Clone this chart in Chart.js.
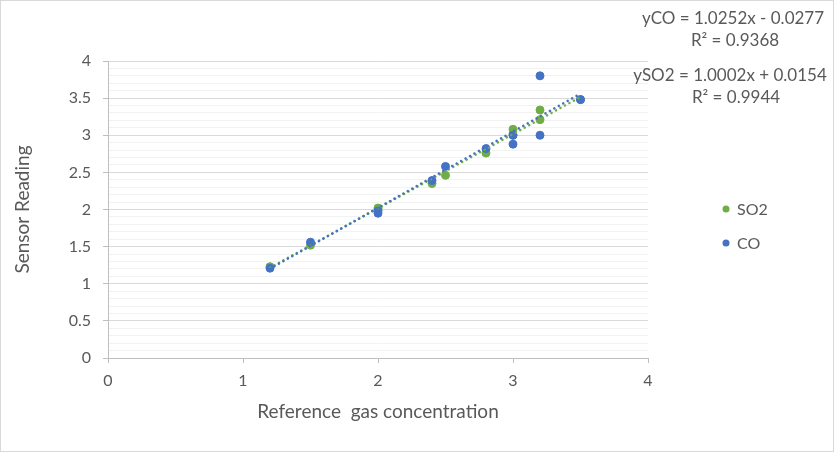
<!DOCTYPE html>
<html>
<head>
<meta charset="utf-8">
<script src="https://cdn.jsdelivr.net/npm/chart.js@4/dist/chart.umd.min.js"></script>
<style>
  html, body { margin: 0; padding: 0; background: #fff; }
  #wrap { width: 834px; height: 452px; position: relative; }
</style>
</head>
<body>
<div id="wrap"><canvas id="chart" width="834" height="452"></canvas></div>
<script>
/* ================= DATA ================= */

const refConc = [1.2, 1.5, 2, 2, 2.4, 2.5, 2.8, 3, 3, 3.2, 3.2, 3.5];
const so2Reading = [1.23, 1.52, 2.0, 2.02, 2.35, 2.46, 2.76, 3.08, 3.0, 3.34, 3.21, 3.48];
const coReading = [1.21, 1.56, 1.95, 1.98, 2.39, 2.58, 2.82, 3.0, 2.88, 3.8, 3.0, 3.48];

// trendline coefficients shown on the chart [slope, intercept]
const coFit = [1.0252, -0.0277];
const so2Fit = [1.0002, 0.0154];
const fitRange = [1.2, 3.5];

const equationLabels = [
  "yCO = 1.0252x - 0.0277", "R² = 0.9368",
  "ySO2 = 1.0002x + 0.0154", "R² = 0.9944"
];
const seriesNames = ["SO2", "CO"];

/* ================= HELPERS ================= */

const GREEN = "#70ad47";
const BLUE = "#4472c4";
const TEXT = "#595959";
const FONT = "Lato, 'Open Sans', sans-serif";

const toPoints = (xs, ys) => xs.map((x, i) => ({ x: x, y: ys[i] }));
const trend = fit => fitRange.map(x => ({ x: x, y: fit[0] * x + fit[1] }));
const isMajor = v => Math.abs(v * 2 - Math.round(v * 2)) < 1e-6;

/* ================= EXTRAS (border, legend, equations) ================= */

const extras = {
  id: "extras",
  beforeDraw(chart) {
    const ctx = chart.ctx;
    ctx.save();
    ctx.fillStyle = "#fff";
    ctx.fillRect(0, 0, chart.width, chart.height);
    ctx.restore();
  },
  afterDraw(chart) {
    const ctx = chart.ctx;
    ctx.save();
    ctx.strokeStyle = "#d9d9d9";
    ctx.lineWidth = 1;
    ctx.strokeRect(0.5, 0.5, chart.width - 1, chart.height - 1);

    // legend
    const colors = [GREEN, BLUE];
    const rows = [209, 243];
    ctx.font = "16px " + FONT;
    ctx.textBaseline = "middle";
    ctx.textAlign = "left";
    seriesNames.forEach((name, i) => {
      ctx.fillStyle = colors[i];
      ctx.beginPath();
      ctx.arc(726, rows[i], 3.5, 0, Math.PI * 2);
      ctx.fill();
      ctx.fillStyle = TEXT;
      ctx.fillText(name, 737, rows[i] + 1);
    });

    // trendline labels
    ctx.font = "17px " + FONT;
    const pos = [[733, 19], [735, 41], [730, 76], [736, 98]];
    ctx.textAlign = "center";
    equationLabels.forEach((t, i) => ctx.fillText(t, pos[i][0], pos[i][1]));
    ctx.restore();
  }
};

/* ================= CHART ================= */

new Chart(document.getElementById("chart"), {
  type: "scatter",
  data: {
    datasets: [
      {
        label: "SO2",
        data: toPoints(refConc, so2Reading),
        backgroundColor: GREEN,
        borderColor: GREEN,
        pointRadius: 4,
        order: 4
      },
      {
        label: "CO",
        data: toPoints(refConc, coReading),
        backgroundColor: BLUE,
        borderColor: BLUE,
        pointRadius: 4,
        order: 3
      },
      {
        label: "SO2 trend",
        data: trend(so2Fit),
        showLine: true,
        pointRadius: 0,
        borderColor: GREEN,
        borderWidth: 2.5,
        borderDash: [0.1, 5],
        borderCapStyle: "round",
        order: 2
      },
      {
        label: "CO trend",
        data: trend(coFit),
        showLine: true,
        pointRadius: 0,
        borderColor: BLUE,
        borderWidth: 2.5,
        borderDash: [0.1, 5],
        borderCapStyle: "round",
        order: 1
      }
    ]
  },
  options: {
    responsive: false,
    animation: false,
    layout: { padding: { top: 61, right: 186, left: 0, bottom: 0 } },
    plugins: {
      legend: { display: false },
      tooltip: { enabled: false }
    },
    scales: {
      x: {
        type: "linear",
        min: 0,
        max: 4,
        afterFit: s => { s.height = 94; },
        ticks: { stepSize: 1, color: TEXT, font: { family: FONT, size: 16 }, padding: 8 },
        grid: { drawOnChartArea: false, drawTicks: true, tickLength: 5, tickColor: "#bfbfbf" },
        border: { color: "#bfbfbf" },
        title: {
          display: true,
          text: "Reference  gas concentration",
          color: TEXT,
          font: { family: FONT, size: 19 },
          padding: { top: 0, bottom: 29 }
        }
      },
      y: {
        min: 0,
        max: 4,
        afterFit: s => { s.width = 108; },
        ticks: {
          stepSize: 0.1,
          autoSkip: false,
          color: TEXT,
          font: { family: FONT, size: 16 },
          padding: 12,
          callback: v => isMajor(v) ? String(Math.round(v * 2) / 2) : ""
        },
        grid: {
          tickLength: 5,
          color: c => isMajor(c.tick.value) ? "#d9d9d9" : "#f2f2f2",
          tickColor: c => isMajor(c.tick.value) ? "#bfbfbf" : "rgba(0,0,0,0)"
        },
        border: { color: "#bfbfbf" },
        title: {
          display: true,
          text: "Sensor Reading",
          color: TEXT,
          font: { family: FONT, size: 19 },
          padding: { top: 11, bottom: 0 }
        }
      }
    }
  },
  plugins: [extras]
});
</script>
</body>
</html>
